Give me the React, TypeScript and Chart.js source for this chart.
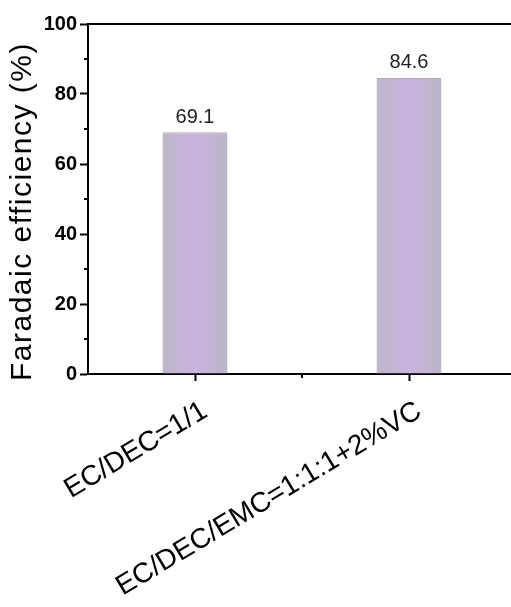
import React, { useEffect, useRef } from "react";
import { Chart, registerables } from "chart.js";

Chart.register(...registerables);

// Electrolyte formulations and their measured Faradaic efficiency (%)
const categories = ["EC/DEC=1/1", "EC/DEC/EMC=1:1:1+2%VC"];
const efficiency = [69.1, 84.6];
const yMajorStep = 20;
const yMinorTicks = [10, 30, 50, 70, 90];
const yTitleText = "Faradaic efficiency (%)";

const FONT = "Arial, 'Liberation Sans', sans-serif";
const CANVAS_W = 530;
const CANVAS_H = 607;
const BAR_PCT = 0.304;

// Small outward minor ticks on both axes, positioned through the scales
const minorTicks = {
  id: "minorTicks",
  afterDraw(chart: any) {
    const c = chart.ctx;
    const { left, bottom } = chart.chartArea;
    const ys = chart.scales.y;
    const xs = chart.scales.x;
    c.save();
    c.strokeStyle = "#000";
    c.lineWidth = 2;
    yMinorTicks.forEach((v) => {
      const y = Math.round(ys.getPixelForValue(v));
      c.beginPath();
      c.moveTo(left - 4, y);
      c.lineTo(left, y);
      c.stroke();
    });
    for (let i = 0; i < categories.length - 1; i++) {
      const x = Math.round((xs.getPixelForValue(i) + xs.getPixelForValue(i + 1)) / 2);
      c.beginPath();
      c.moveTo(x, bottom);
      c.lineTo(x, bottom + 4);
      c.stroke();
    }
    c.restore();
  },
};

// Rotated y-axis title with slightly widened letter spacing
const yTitle = {
  id: "yTitle",
  afterDraw(chart: any) {
    const { top, bottom } = chart.chartArea;
    const c = chart.ctx;
    c.save();
    c.translate(22.5, (top + bottom) / 2 + 12.5);
    c.rotate(-Math.PI / 2);
    c.font = `30px ${FONT}`;
    (c as any).letterSpacing = "1.5px";
    c.fillStyle = "#000";
    c.textAlign = "center";
    c.textBaseline = "middle";
    c.fillText(yTitleText, 0, 0);
    c.restore();
  },
};

// Value printed above each bar
const valueLabels = {
  id: "valueLabels",
  afterDatasetsDraw(chart: any) {
    const c = chart.ctx;
    const meta = chart.getDatasetMeta(0);
    c.save();
    c.font = `20px ${FONT}`;
    c.fillStyle = "#222";
    c.textAlign = "center";
    c.textBaseline = "alphabetic";
    meta.data.forEach((bar: any, i: number) => {
      c.fillText(efficiency[i].toFixed(1), bar.x, bar.y - 9.5);
    });
    c.restore();
  },
};

export default function App() {
  const canvasRef = useRef<HTMLCanvasElement | null>(null);

  useEffect(() => {
    const canvas = canvasRef.current;
    if (!canvas) return;

    const chart = new Chart(canvas, {
      type: "bar",
      data: {
        labels: categories,
        datasets: [
          {
            data: efficiency,
            backgroundColor: (ctx: any) => {
              const ch = ctx.chart;
              const xs = ch.scales?.x;
              if (!ch.chartArea || !xs || ctx.dataIndex === undefined) return "#c6b5da";
              const cx = xs.getPixelForValue(ctx.dataIndex);
              const half = ((xs.width / categories.length) * BAR_PCT) / 2;
              const g = ch.ctx.createLinearGradient(cx - half, 0, cx + half, 0);
              g.addColorStop(0, "#bdb7c8");
              g.addColorStop(0.5, "#c9b3e0");
              g.addColorStop(1, "#bcb5c6");
              return g;
            },
            borderColor: "#b4a8c2",
            borderWidth: { top: 1, left: 0, right: 0, bottom: 0 },
            borderSkipped: "bottom",
            categoryPercentage: 1,
            barPercentage: BAR_PCT,
          },
        ],
      },
      options: {
        responsive: false,
        devicePixelRatio: 1,
        animation: false,
        layout: { padding: { left: 0, right: 14, top: 24, bottom: 0 } },
        plugins: {
          legend: { display: false },
          tooltip: { enabled: false },
        },
        scales: {
          x: {
            type: "category",
            position: "bottom",
            offset: true,
            grid: {
              display: true,
              drawOnChartArea: false,
              offset: false,
              tickLength: 7,
              tickWidth: 2,
              tickColor: "#000",
            },
            border: { display: true, color: "#000", width: 2 },
            ticks: {
              autoSkip: false,
              minRotation: 31,
              maxRotation: 31,
              padding: 13.5,
              labelOffset: 10,
              color: "#000",
              font: { family: FONT, size: 28 },
            },
            afterFit: (s: any) => {
              s.height = CANVAS_H - 374;
            },
          },
          xTop: {
            type: "category",
            position: "top",
            offset: true,
            grid: { display: false, drawTicks: false },
            border: { display: true, color: "#000", width: 2 },
            ticks: { display: false },
            afterFit: (s: any) => {
              s.height = 0;
            },
          },
          y: {
            min: 0,
            max: 100,
            ticks: {
              stepSize: yMajorStep,
              padding: 3,
              color: "#000",
              font: { family: FONT, size: 20, weight: "bold" },
            },
            grid: {
              drawOnChartArea: false,
              tickLength: 8,
              tickWidth: 2,
              tickColor: "#000",
            },
            border: { display: true, color: "#000", width: 2 },
            title: { display: false },
            afterFit: (s: any) => {
              s.width = 88;
            },
          },
        },
      },
      plugins: [minorTicks, valueLabels, yTitle],
    } as any);

    return () => chart.destroy();
  }, []);

  return (
    <div
      style={{
        position: "fixed",
        left: 0,
        top: 0,
        width: 511,
        height: 607,
        overflow: "hidden",
        background: "#fff",
      }}
    >
      <canvas
        ref={canvasRef}
        width={CANVAS_W}
        height={CANVAS_H}
        style={{ display: "block", width: CANVAS_W, height: CANVAS_H }}
      />
    </div>
  );
}
